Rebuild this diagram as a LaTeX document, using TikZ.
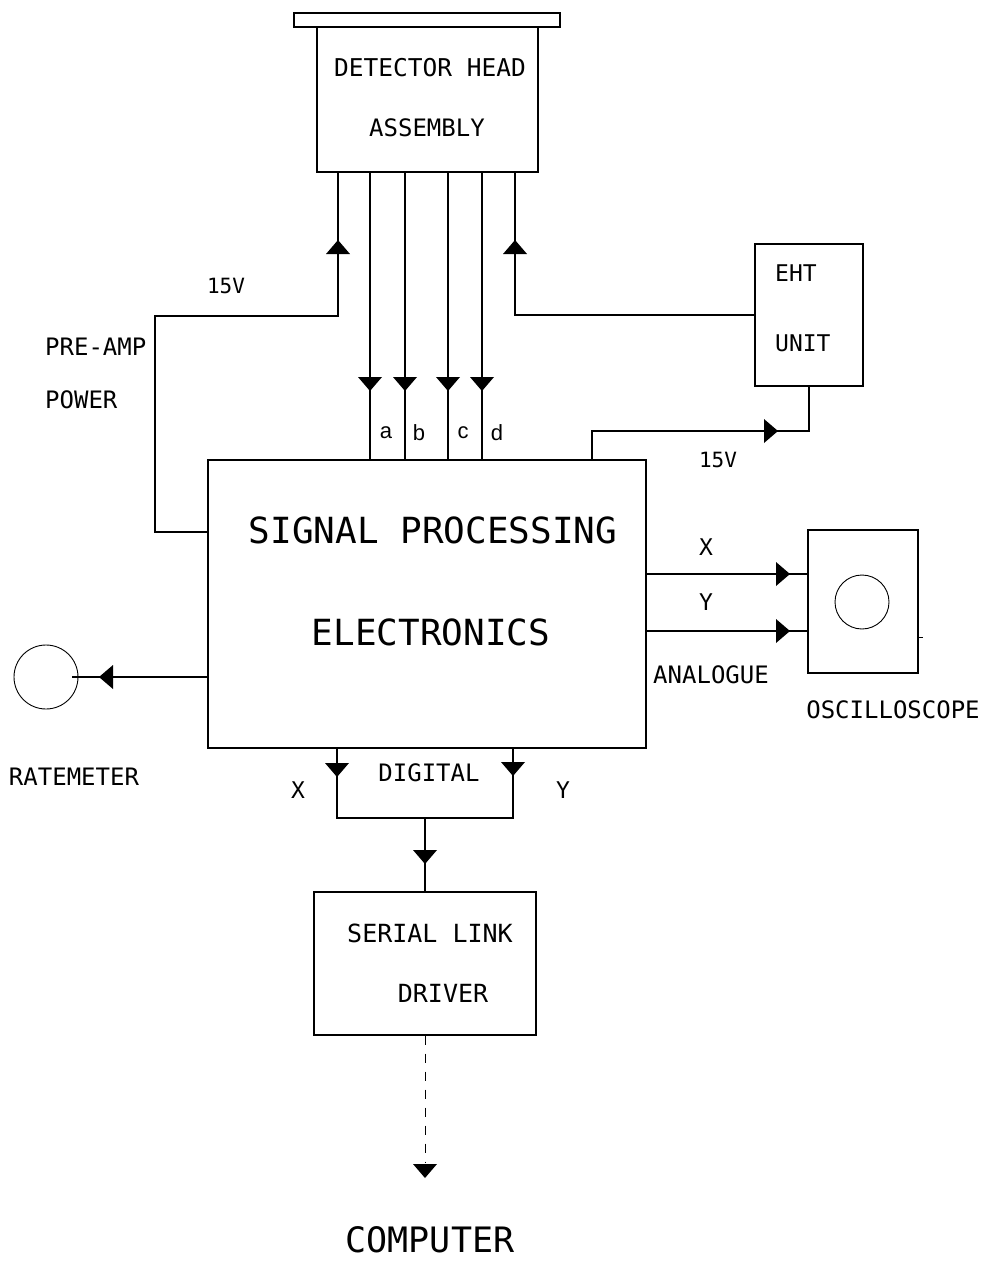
\documentclass[tikz,border=0pt]{standalone}
\usepackage{fontspec}
\newfontfamily\pf{DejaVu Sans Mono}
\newfontfamily\lf{Liberation Sans}
\newcommand{\psz}[1]{\pf\fontsize{#1}{#1}\selectfont}
\begin{document}
\begin{tikzpicture}[x=1pt,y=-1pt,
  wire/.style={line width=1.3pt},
  box/.style={draw,line width=1.3pt,inner sep=0pt},
  txt/.style={inner sep=0pt,anchor=center},
  lab/.style={inner sep=0pt,anchor=center,font=\lf\fontsize{22}{22}\selectfont},
  ring/.style={draw,circle,line width=0.9pt,inner sep=0pt},
  pics/dn/.style={code={\fill (-12,-7) -- (12,-7) -- (0,7) -- cycle;}},
  pics/up/.style={code={\fill (-12,7) -- (12,7) -- (0,-7) -- cycle;}},
  pics/rt/.style={code={\fill (-7,-12) -- (-7,12) -- (7,0) -- cycle;}},
  pics/lt/.style={code={\fill (7,-12) -- (7,12) -- (-7,0) -- cycle;}}
]
\useasboundingbox (0,0) rectangle (982,1267);

% boxes
\node[box,minimum width=266pt,minimum height=14pt] (plate) at (427,20) {};
\node[box,minimum width=221pt,minimum height=145pt] (det) at (427.5,99.5) {};
\node[box,minimum width=108pt,minimum height=142pt] (eht) at (809,315) {};
\node[box,minimum width=438pt,minimum height=288pt] (sp) at (427,604) {};
\node[box,minimum width=110pt,minimum height=143pt] (osc) at (863,601.5) {};
\node[box,minimum width=222pt,minimum height=143pt] (ser) at (425,963.5) {};
\node[ring,minimum size=64pt] (rm) at (46,677) {};
\node[ring,minimum size=54pt] (scr) at (862,602) {};

% texts
\node[txt,font=\psz{24.5}] (t1) at (430,68) {DETECTOR HEAD};
\node[txt,font=\psz{24}] (t2) at (427,128) {ASSEMBLY};
\node[txt,font=\psz{21}] (t3) at (226,286) {15V};
\node[txt,font=\psz{24},anchor=west] (t4) at (45,347) {PRE-AMP};
\node[txt,font=\psz{24},anchor=west] (t5) at (45,400) {POWER};
\node[txt,font=\psz{23},anchor=west] (t6) at (775,273) {EHT};
\node[txt,font=\psz{23},anchor=west] (t7) at (775,343) {UNIT};
\node[lab] (la) at (386,433) {a};
\node[lab] (lb) at (419,433) {b};
\node[lab] (lc) at (463,433) {c};
\node[lab] (ld) at (497,433) {d};
\node[txt,font=\psz{21}] (t8) at (718,460) {15V};
\node[txt,font=\psz{36}] (t9) at (433,530) {SIGNAL PROCESSING};
\node[txt,font=\psz{36}] (t10) at (431,632) {ELECTRONICS};
\node[txt,font=\psz{23}] (t11) at (706,547) {X};
\node[txt,font=\psz{23}] (t12) at (706,602) {Y};
\node[txt,font=\psz{24}] (t13) at (711,675) {ANALOGUE};
\node[txt,font=\psz{24}] (t14) at (893,710) {OSCILLOSCOPE};
\node[txt,font=\psz{24}] (t15) at (74,777) {RATEMETER};
\node[txt,font=\psz{24}] (t16) at (429,773) {DIGITAL};
\node[txt,font=\psz{23}] (t17) at (298,790) {X};
\node[txt,font=\psz{23}] (t18) at (563,790) {Y};
\node[txt,font=\psz{25}] (t19) at (430,933) {SERIAL LINK};
\node[txt,font=\psz{25}] (t20) at (443,993) {DRIVER};
\node[txt,font=\psz{35}] (t21) at (430,1240) {COMPUTER};

% helper coordinates
\coordinate (xP) at (338,0);
\coordinate (xa) at (370,0);
\coordinate (xb) at (405,0);
\coordinate (xc) at (448,0);
\coordinate (xd) at (482,0);
\coordinate (xE) at (515,0);
\coordinate (xS) at (592,0);
\coordinate (xL) at (155,0);
\coordinate (xX) at (337,0);
\coordinate (xY) at (513,0);
\coordinate (y15) at (0,316);
\coordinate (yE) at (0,315);
\coordinate (yPA) at (0,532);
\coordinate (yS) at (0,431);
\coordinate (yAX) at (0,574);
\coordinate (yAY) at (0,631);
\coordinate (yR) at (0,677);
\coordinate (yD) at (0,818);
\coordinate (yT) at (0,637);
\coordinate (cend) at (425,1163);

% connectors
\draw[wire] (sp.west |- yPA) -| (xL |- y15) -- (xP |- y15) -- (det.south -| xP);
\draw[wire] (det.south -| xa) -- (sp.north -| xa);
\draw[wire] (det.south -| xb) -- (sp.north -| xb);
\draw[wire] (det.south -| xc) -- (sp.north -| xc);
\draw[wire] (det.south -| xd) -- (sp.north -| xd);
\draw[wire] (det.south -| xE) -- (xE |- yE) -- (eht.west |- yE);
\draw[wire] (sp.north -| xS) -- (xS |- yS) -- (eht.south |- yS) -- (eht.south);
\draw[wire] (sp.east |- yAX) -- (osc.west |- yAX);
\draw[wire] (sp.east |- yAY) -- (osc.west |- yAY);
\draw[line width=1pt] (osc.east |- yT) -- ++(4,0);
\draw[wire] (sp.west |- yR) -- ([xshift=-6pt]rm.east);
\draw[wire] (sp.south -| xX) -- (xX |- yD) -- (xY |- yD) -- (sp.south -| xY);
\draw[wire] (ser.north |- yD) -- (ser.north);
\draw[line width=1pt,dash pattern=on 9pt off 9pt] (ser.south) -- (cend);

% arrowheads
\pic at (338,247) {up};
\pic at (515,247) {up};
\pic at (370,384) {dn};
\pic at (405,384) {dn};
\pic at (448,384) {dn};
\pic at (482,384) {dn};
\pic at (771,431) {rt};
\pic at (783,574) {rt};
\pic at (783,631) {rt};
\pic at (106,677) {lt};
\pic at (337,770) {dn};
\pic at (513,769) {dn};
\pic at (425,857) {dn};
\pic at (425,1171) {dn};
\end{tikzpicture}
\end{document}
